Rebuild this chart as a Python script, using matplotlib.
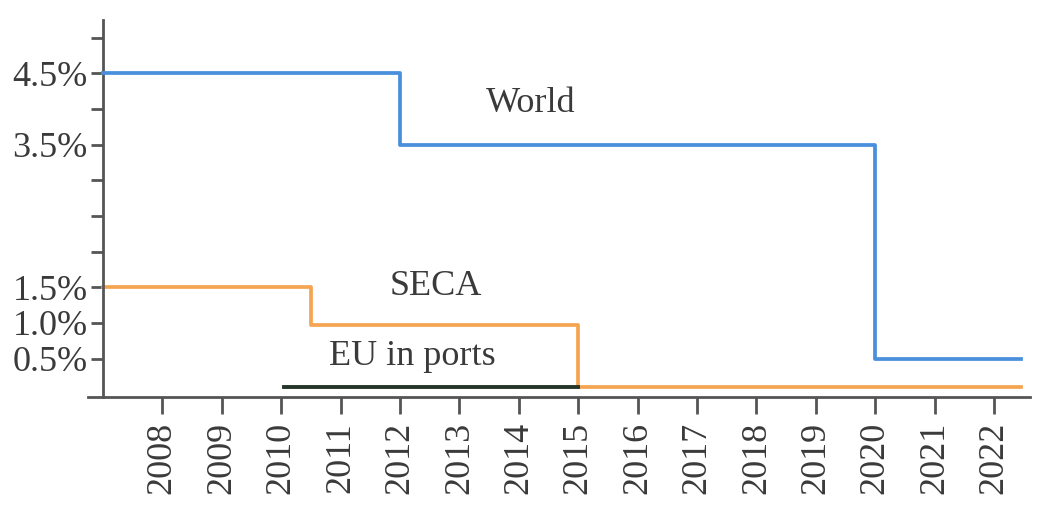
import numpy as np
import matplotlib
matplotlib.use("Agg")
import matplotlib.pyplot as plt

# sulphur limits (step data, value holds until next year entry)
world_years = [2007, 2012, 2020, 2022.45]
world_vals = [4.5, 3.5, 0.5, 0.5]
seca_years = [2007, 2010.5, 2015, 2022.45]
seca_vals = [1.5, 0.97, 0.1, 0.1]
eu_years = [2010.05, 2015]
eu_vals = [0.1, 0.1]

year_ticks = list(range(2008, 2023))
y_ticks = [0.5, 1.0, 1.5, 2.0, 2.5, 3.0, 3.5, 4.0, 4.5, 5.0]
y_labels = {0.5: "0.5%", 1.0: "1.0%", 1.5: "1.5%", 3.5: "3.5%", 4.5: "4.5%"}

plt.rcParams['font.family'] = ['Liberation Serif', 'DejaVu Serif']
txt = '#3a3a3a'
axc = '#555555'

fig = plt.figure(figsize=(10.63, 5.21), dpi=100)
ax = fig.add_axes([0.0828, 0.238, 0.886, 0.7236])

ax.plot(world_years, world_vals, drawstyle='steps-post', color='#4a8fdc', lw=2.7, zorder=3)
ax.plot(seca_years, seca_vals, drawstyle='steps-post', color='#f5a552', lw=2.7, zorder=2)
ax.plot(eu_years, eu_vals, color='#253528', lw=2.8, zorder=4)

ax.text(2014.2, 4.08, "World", fontsize=26, color=txt, ha='center', va='center')
ax.text(2012.6, 1.51, "SECA", fontsize=26, color=txt, ha='center', va='center')
ax.text(2012.2, 0.53, "EU in ports", fontsize=26, color=txt, ha='center', va='center')

ax.set_xlim(2006.75, 2022.6)
ax.set_ylim(-0.04, 5.25)
ax.spines['left'].set_position(('data', 2007))
ax.spines['right'].set_visible(False)
ax.spines['top'].set_visible(False)
for s in ('left', 'bottom'):
    ax.spines[s].set_color(axc)
    ax.spines[s].set_linewidth(2)

ax.set_xticks(year_ticks)
ax.set_xticklabels([str(y) for y in year_ticks], rotation=90, fontsize=26, color=txt)
ax.set_yticks(y_ticks)
ax.set_yticklabels([y_labels.get(v, "") for v in y_ticks], fontsize=26, color=txt)
ax.tick_params(axis='x', direction='out', length=12, width=2, color=axc, pad=6)
ax.tick_params(axis='y', direction='out', length=9, width=2, color=axc, pad=2)

fig.savefig("out.png", dpi=100)
